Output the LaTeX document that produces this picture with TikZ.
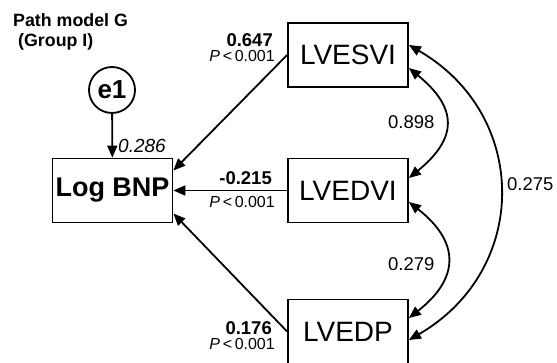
\documentclass[tikz,border=0pt]{standalone}
\usepackage{fontspec}
\setmainfont{Liberation Sans}
\usetikzlibrary{arrows.meta}
\tikzset{
  varbox/.style={draw, line width=1.8pt, minimum width=120pt, minimum height=64pt, inner sep=0pt, font=\fontsize{28}{30}\selectfont},
  errc/.style={draw, circle, line width=1.8pt, minimum size=46pt, inner sep=0pt, font=\bfseries\fontsize{26}{28}\selectfont},
  conn/.style={line width=1.8pt, -{Triangle[length=12pt,width=10pt]}},
  corr/.style={line width=1.8pt, {Triangle[length=12pt,width=10pt]}-{Triangle[length=12pt,width=10pt]}},
  coef/.style={font=\bfseries\fontsize{18.5}{20}\selectfont, inner sep=0pt, anchor=base east},
  pval/.style={font=\fontsize{16}{18}\selectfont, inner sep=0pt, anchor=base east},
  rval/.style={font=\fontsize{18.5}{20}\selectfont, inner sep=0pt, anchor=base west},
  ttl/.style={font=\bfseries\fontsize{17.8}{20}\selectfont, inner sep=0pt, anchor=base west}
}
\begin{document}
\begin{tikzpicture}[x=1pt,y=-1pt]
\useasboundingbox (0,0) rectangle (557,362);
\node[ttl] (t1) at (13,26) {Path model G};
\node[ttl] (t2) at (18,46) {(Group I)};

\node[varbox, font=\bfseries\fontsize{27}{29}\selectfont] (lb) at (112.5,190.5) {Log BNP};
\node[varbox] (vs) at (348,55) {LVESVI};
\node[varbox] (dv) at (348,190.5) {LVEDVI};
\node[varbox] (dp) at (348,331.5) {LVEDP};
\node[errc] (e1) at (112,90) {e1};

\draw[conn] (e1) -- (lb);
\draw[conn] (vs.west) -- ([yshift=20pt]lb.east);
\draw[conn] (dv.west) -- (lb.east);
\draw[conn] (dp.west) -- ([yshift=-23pt]lb.east);

\coordinate (a1) at ([yshift=-13pt]vs.east);
\coordinate (b1) at ([yshift=12.5pt]dv.east);
\coordinate (a2) at ([yshift=-11.5pt]dv.east);
\coordinate (b2) at ([yshift=13.5pt]dp.east);
\coordinate (a3) at ([yshift=10pt]vs.east);
\coordinate (b3) at ([yshift=-8.5pt]dp.east);
\draw[corr] (a1) .. controls +(49,40) and +(49,-40) .. (b1);
\draw[corr] (a2) .. controls +(51,40) and +(51,-40) .. (b2);
\draw[corr] (a3) .. controls +(121,70) and +(121,-70) .. (b3);

\node[rval, font=\itshape\fontsize{19}{21}\selectfont] (r0) at (118,152) {0.286};
\node[coef] (c1) at (273,46) {0.647};
\node[pval] (p1) at (275,61) {\textit{P}\,<\,0.001};
\node[coef] (c2) at (272,184) {-0.215};
\node[pval] (p2) at (275,207) {\textit{P}\,<\,0.001};
\node[coef] (c3) at (272,334) {0.176};
\node[pval] (p3) at (275,349) {\textit{P}\,<\,0.001};
\node[rval] (r1) at (388,128) {0.898};
\node[rval] (r2) at (388,270) {0.279};
\node[rval] (r3) at (507,190) {0.275};
\end{tikzpicture}
\end{document}
